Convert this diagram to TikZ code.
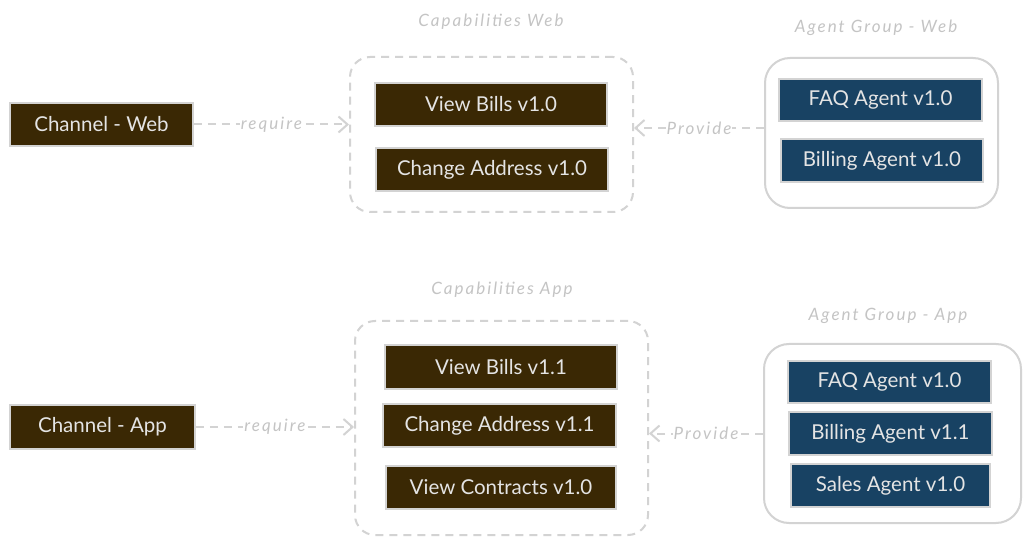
\documentclass[tikz,border=0pt]{standalone}
\usepackage{fontspec}
\setmainfont{Lato}
\newfontfamily\handfont[LetterSpace=12]{Lato}
\usetikzlibrary{arrows.meta}
\definecolor{brownbox}{HTML}{3A2804}
\definecolor{bluebox}{HTML}{184263}
\definecolor{edgegray}{HTML}{D3D3D3}
\definecolor{boxtext}{HTML}{E4E4E4}
\definecolor{lblgray}{HTML}{C4C4C4}
\begin{document}
\begin{tikzpicture}[x=1pt,y=-1pt,
  box/.style={draw=edgegray, line width=1.5pt, text=boxtext, inner sep=0pt, font=\fontsize{20.5}{24}\selectfont},
  capbox/.style={box, fill=brownbox},
  agbox/.style={box, fill=bluebox},
  capgroup/.style={draw=edgegray, line width=2pt, dash pattern=on 8pt off 6pt, rounded corners=20pt},
  aggroup/.style={draw=edgegray, line width=2pt, rounded corners=25pt},
  grplbl/.style={text=lblgray, font=\handfont\itshape\fontsize{17}{20}\selectfont},
  conn/.style={draw=edgegray, line width=2pt, dash pattern=on 8pt off 6pt, -{Straight Barb[length=9pt,width=16pt,line width=2pt]}},
  elbl/.style={fill=white, text=lblgray, inner sep=1pt, font=\handfont\itshape\fontsize{17}{20}\selectfont}
]
\useasboundingbox (0,0) rectangle (1031,545);
\fill[white] (0,0) rectangle (1031,545);

% Web row
\node[capgroup, minimum width=283pt, minimum height=155pt] (capweb) at (491.5,134.5) {};
\node[grplbl] (capweblbl) at (491,22) {Capabilities Web};
\node[aggroup, minimum width=233pt, minimum height=150pt] (agweb) at (881.5,133) {};
\node[grplbl] (agweblbl) at (876,28) {Agent Group - Web};

\node[capbox, minimum width=183pt, minimum height=43pt] (chweb) at (101.5,124.5) {Channel - Web};
\node[capbox, minimum width=232pt, minimum height=43pt] (vb10) at (491,104.5) {View Bills v1.0};
\node[capbox, minimum width=232pt, minimum height=43pt] (ca10) at (492,169.5) {Change Address v1.0};
\node[agbox, minimum width=203pt, minimum height=42pt] (faqweb) at (880.5,100) {FAQ Agent v1.0};
\node[agbox, minimum width=202pt, minimum height=43pt] (billweb) at (882,160.5) {Billing Agent v1.0};

% App row
\node[capgroup, minimum width=293pt, minimum height=214pt] (capapp) at (501.5,428) {};
\node[grplbl] (capapplbl) at (502,290) {Capabilities App};
\node[aggroup, minimum width=257pt, minimum height=179pt] (agapp) at (892.5,433.5) {};
\node[grplbl] (agapplbl) at (888,316) {Agent Group - App};

\node[capbox, minimum width=185pt, minimum height=44pt] (chapp) at (102.5,427) {Channel - App};
\node[capbox, minimum width=232pt, minimum height=44pt] (vb11) at (501,367) {View Bills v1.1};
\node[capbox, minimum width=233pt, minimum height=43pt] (ca11) at (499.5,425.5) {Change Address v1.1};
\node[capbox, minimum width=230pt, minimum height=43pt] (vc10) at (501,487.5) {View Contracts v1.0};
\node[agbox, minimum width=203pt, minimum height=42pt] (faqapp) at (889.5,382) {FAQ Agent v1.0};
\node[agbox, minimum width=203pt, minimum height=43pt] (billapp) at (890.5,433.5) {Billing Agent v1.1};
\node[agbox, minimum width=199pt, minimum height=43pt] (salesapp) at (890.5,485.5) {Sales Agent v1.0};

% Connectors
\draw[conn] (chweb.east) -- node[elbl] {require} (chweb.east -| capweb.west);
\coordinate (pw) at ([yshift=5pt]agweb.west);
\draw[conn] (pw) -- node[elbl] {Provide} (pw -| capweb.east);
\draw[conn] (chapp.east) -- node[elbl] {require} (chapp.east -| capapp.west);
\draw[conn] (agapp.west) -- node[elbl] {Provide} (agapp.west -| capapp.east);
\end{tikzpicture}
\end{document}
